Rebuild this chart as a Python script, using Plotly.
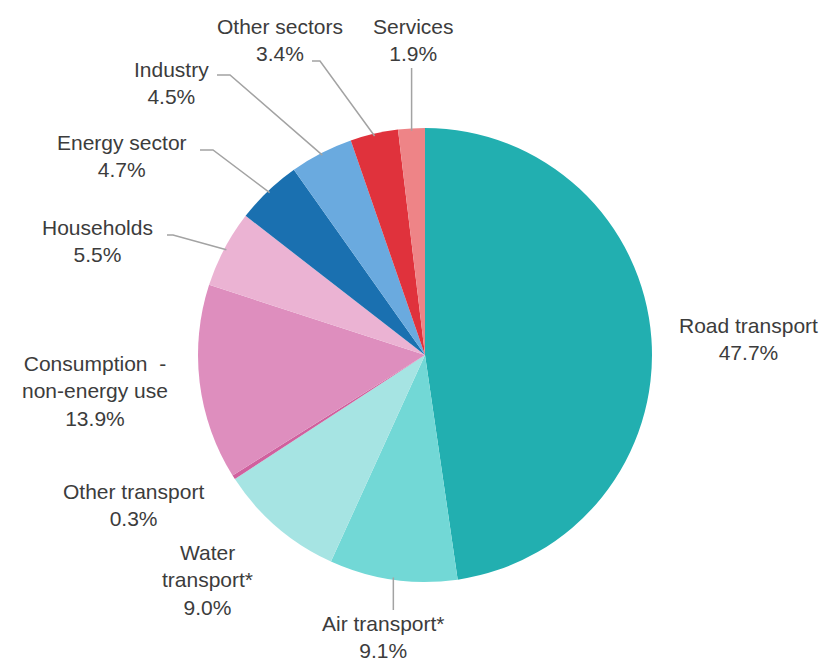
import math
import plotly.graph_objects as go

# Share of final energy consumption by sector (%)
sectors = ["Road transport", "Air transport*", "Water transport*", "Other transport",
           "Consumption -<br>non-energy use", "Households", "Energy sector",
           "Industry", "Other sectors", "Services"]
shares = [47.7, 9.1, 9.0, 0.3, 13.9, 5.5, 4.7, 4.5, 3.4, 1.9]
label_text = ["Road transport", "Air transport*", "Water<br>transport*", "Other transport",
              "Consumption &nbsp;-<br>non-energy use", "Households", "Energy sector",
              "Industry", "Other sectors", "Services"]
colors = ["#22AFB0", "#72D8D6", "#A6E4E3", "#D0609E", "#DE8EBE", "#EBB3D3",
          "#1A70B0", "#6AAADF", "#E0323C", "#EE8487"]

W, H = 830, 662
CX, CY, R = 425, 355, 227

# Label block centres (pixels) and leader-line bends (pixels) per sector
label_pos = {
    "Road transport": (748, 339),
    "Air transport*": (383, 637),
    "Water transport*": (207, 580),
    "Other transport": (133, 505),
    "Consumption -<br>non-energy use": (95, 391),
    "Households": (97, 241),
    "Energy sector": (122, 156),
    "Industry": (171, 83),
    "Other sectors": (280, 40),
    "Services": (413, 40),
}
leaders = {
    "Services": [("edge_x", 68)],
    "Other sectors": [(320, 61), (312, 61)],
    "Industry": [(230, 75), (217, 75)],
    "Energy sector": [(213, 150), (200, 150)],
    "Households": [(173, 235), (167, 235)],
    "Air transport*": [("edge_x", 610)],
}


def px(x):
    return x / W


def py(y):
    return 1 - y / H


fig = go.Figure(go.Pie(
    labels=sectors,
    values=shares,
    sort=False,
    direction="clockwise",
    rotation=0,
    marker=dict(colors=colors, line=dict(width=0)),
    textinfo="none",
    hoverinfo="label+percent",
    domain=dict(x=[px(CX - R), px(CX + R)], y=[py(CY + R), py(CY - R)]),
    showlegend=False,
))

total = sum(shares)
cum = 0.0
shapes = []
annotations = []
for name, val, txt in zip(sectors, shares, label_text):
    theta = 2 * math.pi * (cum + val / 2) / total
    cum += val
    ex = CX + R * 0.99 * math.sin(theta)
    ey = CY - R * 0.99 * math.cos(theta)
    lx, ly = label_pos[name]
    annotations.append(dict(
        x=px(lx), y=py(ly), xref="paper", yref="paper",
        text=f"{txt}<br>{val:.1f}%", showarrow=False,
        xanchor="center", yanchor="middle", align="center",
        font=dict(family="Liberation Sans, Arial", size=21, color="#3c3c3c"),
    ))
    if name in leaders:
        pts = [(ex, ey)] + [(ex if bx == "edge_x" else bx, by) for bx, by in leaders[name]]
        path = "M " + " L ".join(f"{px(x):.5f},{py(y):.5f}" for x, y in pts)
        shapes.append(dict(type="path", path=path, xref="paper", yref="paper",
                           line=dict(color="#a3a3a3", width=1.5)))

fig.update_layout(
    width=W, height=H,
    margin=dict(l=0, r=0, t=0, b=0),
    paper_bgcolor="white",
    plot_bgcolor="white",
    shapes=shapes,
    annotations=annotations,
)

fig.write_html("out.html")
